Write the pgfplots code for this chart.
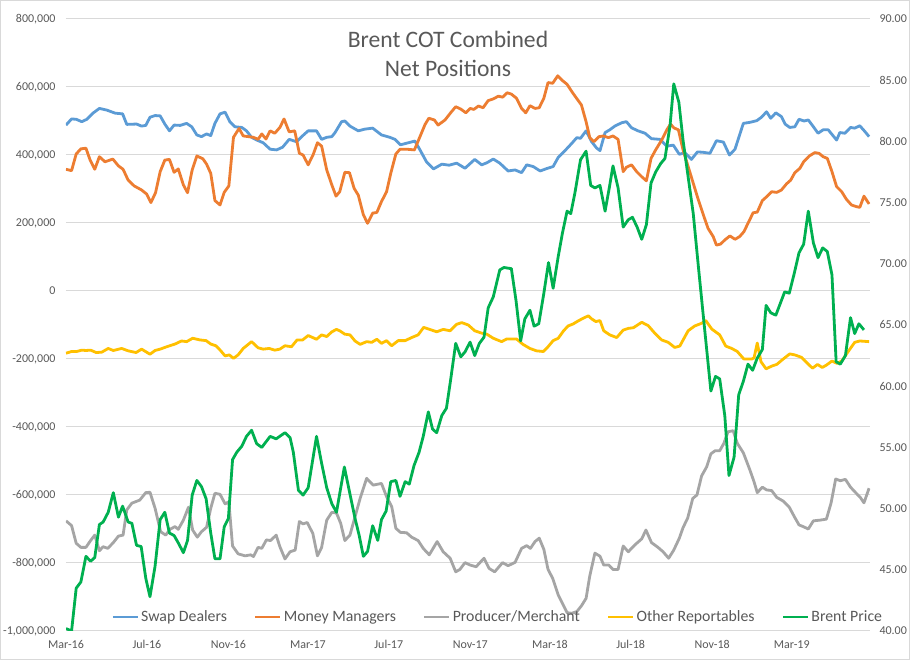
\documentclass[border=0pt]{standalone}
\usepackage{pgfplots}
\pgfplotsset{compat=1.18}
\usepackage{fontspec}
\setmainfont{Carlito}
\definecolor{cswap}{HTML}{5B9BD5}
\definecolor{cmoney}{HTML}{ED7D31}
\definecolor{cprod}{HTML}{A5A5A5}
\definecolor{cother}{HTML}{FFC000}
\definecolor{cbrent}{HTML}{00B050}
\definecolor{txt}{HTML}{595959}
\definecolor{gridc}{HTML}{D9D9D9}
\begin{document}
\begin{tikzpicture}[x=1pt,y=1pt]
\useasboundingbox (0,0) rectangle (910,660);
\fill[white] (0,0) rectangle (910,660);
\draw[gridc, line width=1pt] (0.5,0.5) rectangle (909.5,659.5);
\pgfplotsset{
  common/.style={at={(66pt,29pt)}, anchor=south west, scale only axis,
    width=804pt, height=612pt, xmin=0, xmax=173.3,
    tick label style={font=\fontsize{12}{14}\selectfont, text=txt},
    major tick length=0pt, /pgf/number format/assume math mode=true,
    axis line style={draw=none}},
  ser/.style={line width=2.8pt, line join=round, no markers},
}
\begin{axis}[common, ymin=-1000000, ymax=800000, ytick distance=200000,
  ymajorgrids, grid style={gridc, line width=1pt}, scaled y ticks=false,
  yticklabel style={xshift=-7pt, /pgf/number format/fixed, /pgf/number format/1000 sep={,}},
  xtick={0,17.43,35.0,52.14,69.57,87.14,104.29,121.71,139.29,156.43},
  xticklabels={Mar-16,Jul-16,Nov-16,Mar-17,Jul-17,Nov-17,Mar-18,Jul-18,Nov-18,Mar-19},
  xticklabel style={yshift=-6pt}]
\addplot[ser, color=cswap] coordinates {(0,488000)(1.2,506000)(2.2,505000)(3.4,498000)(4.5,505000)(5.9,524000)(7.2,537000)(8.8,532000)(10.6,523000)(12.2,521000)(13.1,490000)(15.2,491000)(16.3,485000)(17.2,487000)(18.1,511000)(19.2,516000)(20.3,515000)(21.3,491000)(22.3,471000)(23.3,488000)(24.6,487000)(26.0,493000)(27.1,483000)(28.2,459000)(29.2,454000)(30.3,462000)(31.2,457000)(32.1,493000)(33.2,521000)(34.3,526000)(35.3,498000)(36.4,483000)(37.9,481000)(38.9,471000)(40.0,452000)(41.1,444000)(42.5,436000)(44.0,417000)(45.4,415000)(46.7,423000)(48.1,446000)(49.7,439000)(50.8,454000)(52.2,471000)(54.0,471000)(55.1,446000)(56.2,452000)(57.3,454000)(58.0,466000)(59.4,498000)(60.1,500000)(61.2,485000)(63.0,471000)(64.4,476000)(66.1,479000)(68.0,459000)(69.8,452000)(70.9,446000)(72.1,430000)(73.8,436000)(75.2,441000)(76.3,415000)(77.7,380000)(79.2,359000)(81.0,373000)(82.6,370000)(84.2,376000)(86.0,361000)(88.1,387000)(89.6,371000)(90.7,377000)(92.1,388000)(93.5,376000)(95.3,353000)(96.8,356000)(98.2,348000)(99.3,371000)(100.7,366000)(102.2,353000)(103.6,360000)(105.0,366000)(106.1,393000)(107.5,412000)(109.0,434000)(110.1,451000)(110.9,449000)(112.1,471000)(113.3,439000)(114.4,420000)(115.1,413000)(116.2,466000)(117.2,474000)(118.3,485000)(119.8,495000)(120.8,498000)(121.9,480000)(123.3,471000)(124.8,464000)(126.2,448000)(128.0,446000)(129.5,426000)(130.9,429000)(132.2,402000)(133.4,407000)(134.8,387000)(136.1,409000)(137.3,408000)(138.8,405000)(140.2,442000)(141.7,438000)(143.0,400000)(144.2,417000)(146.0,493000)(147.4,496000)(148.9,501000)(149.9,511000)(151.0,527000)(151.9,508000)(153.0,524000)(154.2,513000)(155.0,491000)(156.0,481000)(157.1,483000)(158.0,505000)(159.1,500000)(160.0,503000)(161.1,483000)(162.1,464000)(163.2,474000)(164.3,474000)(165.2,459000)(166.1,444000)(166.8,466000)(167.9,464000)(169.1,481000)(170.0,479000)(171.1,486000)(172.2,469000)(173.1,454000)};
\addplot[ser, color=cmoney] coordinates {(0,358000)(1.2,354000)(2.2,403000)(3.2,418000)(4.3,420000)(5.2,385000)(6.2,358000)(7.2,395000)(8.4,380000)(10.1,388000)(11.3,368000)(12.3,358000)(13.4,326000)(14.7,309000)(16.3,297000)(17.4,285000)(18.3,260000)(19.3,289000)(20.3,351000)(21.3,385000)(22.3,387000)(23.3,349000)(24.2,359000)(25.3,312000)(26.2,289000)(27.2,356000)(28.2,397000)(29.5,389000)(30.3,373000)(31.2,346000)(32.1,266000)(33.2,253000)(34.1,290000)(35.1,309000)(36.1,452000)(37.3,478000)(38.2,456000)(39.3,454000)(40.4,452000)(41.4,446000)(42.2,462000)(43.1,447000)(44.0,471000)(45.0,464000)(46.1,481000)(47.0,506000)(48.1,468000)(49.3,471000)(50.3,405000)(51.1,400000)(52.2,371000)(53.3,402000)(54.2,436000)(55.1,426000)(56.2,356000)(57.3,312000)(58.2,279000)(59.0,292000)(60.1,349000)(61.1,348000)(62.1,302000)(63.0,282000)(64.1,224000)(65.0,199000)(66.1,229000)(67.0,231000)(68.0,263000)(69.1,292000)(70.0,346000)(71.1,403000)(72.0,417000)(73.4,417000)(75.1,415000)(76.3,454000)(77.4,490000)(78.2,508000)(79.4,503000)(80.2,488000)(81.7,503000)(82.9,524000)(84.0,542000)(85.1,535000)(86.2,524000)(87.1,537000)(87.9,534000)(88.9,544000)(89.9,539000)(91.0,560000)(92.1,565000)(93.2,573000)(94.1,570000)(95.1,583000)(96.0,579000)(97.1,567000)(98.2,537000)(99.1,524000)(100.0,545000)(101.1,537000)(102.0,539000)(103.0,567000)(103.9,613000)(104.9,611000)(106.0,633000)(107.0,619000)(108.0,608000)(109.2,583000)(110.2,564000)(111.1,547000)(112.1,498000)(112.9,451000)(113.8,439000)(114.9,454000)(115.9,456000)(116.9,451000)(117.9,456000)(119.0,446000)(120.1,351000)(120.8,364000)(121.9,371000)(123.0,351000)(124.1,336000)(125.1,324000)(126.1,390000)(127.1,415000)(128.4,444000)(129.5,474000)(130.3,491000)(131.0,480000)(132.0,474000)(133.0,415000)(134.1,366000)(135.2,317000)(136.3,268000)(137.5,219000)(138.4,184000)(139.5,160000)(140.2,135000)(141.1,138000)(142.0,150000)(143.1,162000)(144.2,152000)(145.2,160000)(146.1,174000)(147.0,199000)(148.1,230000)(149.0,232000)(150.1,266000)(151.0,277000)(152.1,292000)(153.2,290000)(154.2,297000)(155.3,315000)(156.2,326000)(157.1,348000)(158.2,361000)(159.0,380000)(160.2,397000)(161.4,407000)(162.3,405000)(163.2,395000)(164.1,390000)(165.1,351000)(166.1,307000)(167.2,292000)(168.2,270000)(169.3,253000)(170.4,248000)(171.1,246000)(172.0,279000)(173.1,256000)};
\addplot[ser, color=cprod] coordinates {(0,-676000)(1.2,-690000)(2.2,-742000)(3.2,-754000)(4.3,-754000)(5.3,-734000)(6.2,-718000)(7.2,-764000)(8.0,-752000)(9.0,-757000)(10.2,-740000)(11.3,-721000)(12.3,-718000)(13.1,-644000)(14.2,-624000)(15.9,-615000)(17.2,-593000)(18.1,-592000)(19.2,-639000)(20.4,-708000)(21.5,-718000)(22.4,-701000)(23.5,-693000)(24.2,-701000)(25.3,-674000)(26.4,-636000)(27.3,-703000)(28.3,-724000)(29.2,-708000)(30.3,-695000)(31.2,-639000)(32.1,-595000)(33.2,-598000)(34.3,-626000)(35.1,-620000)(35.9,-750000)(37.1,-773000)(38.6,-779000)(39.8,-776000)(40.4,-781000)(41.4,-754000)(42.2,-757000)(43.2,-732000)(44.1,-734000)(45.3,-718000)(46.1,-752000)(47.2,-788000)(48.3,-767000)(49.4,-762000)(50.3,-678000)(51.1,-685000)(52.0,-681000)(53.2,-713000)(54.2,-779000)(55.1,-754000)(56.2,-674000)(57.3,-651000)(58.3,-653000)(59.2,-683000)(60.1,-734000)(61.2,-718000)(62.3,-664000)(63.4,-610000)(64.8,-551000)(66.2,-571000)(68.0,-566000)(69.1,-605000)(70.2,-634000)(71.1,-698000)(72.1,-710000)(73.4,-711000)(74.5,-724000)(75.9,-734000)(77.0,-757000)(78.3,-776000)(80.0,-737000)(81.3,-767000)(82.8,-786000)(84.0,-826000)(84.9,-819000)(86.0,-799000)(87.1,-806000)(88.4,-811000)(90.1,-786000)(91.2,-816000)(92.4,-826000)(94.1,-799000)(95.3,-808000)(96.8,-798000)(98.2,-757000)(99.3,-749000)(100.1,-757000)(101.1,-737000)(102.0,-727000)(103.0,-760000)(103.9,-819000)(104.9,-845000)(106.1,-894000)(107.2,-924000)(108.0,-946000)(109.0,-948000)(110.1,-943000)(111.1,-926000)(112.1,-904000)(112.9,-838000)(114.0,-771000)(115.1,-780000)(115.9,-806000)(117.0,-806000)(117.9,-819000)(119.0,-819000)(120.1,-750000)(121.2,-767000)(122.6,-747000)(124.1,-729000)(125.0,-703000)(126.2,-740000)(127.6,-754000)(128.7,-767000)(129.9,-786000)(131.0,-762000)(132.2,-727000)(133.0,-696000)(134.0,-668000)(135.1,-610000)(136.0,-600000)(137.0,-544000)(138.1,-517000)(139.0,-479000)(139.9,-470000)(140.9,-470000)(141.8,-448000)(142.7,-414000)(143.8,-411000)(144.7,-448000)(146.0,-476000)(147.4,-526000)(148.3,-561000)(149.0,-593000)(150.1,-577000)(151.0,-585000)(152.1,-587000)(153.2,-607000)(154.6,-618000)(155.9,-636000)(157.0,-664000)(158.0,-688000)(158.9,-693000)(160.0,-700000)(161.1,-676000)(162.5,-674000)(163.9,-671000)(164.9,-624000)(165.9,-553000)(166.9,-558000)(168.0,-554000)(169.1,-577000)(170.2,-593000)(171.2,-607000)(172.0,-623000)(173.1,-580000)};
\addplot[ser, color=cother] coordinates {(0,-183000)(1.2,-178000)(2.3,-178000)(3.4,-174000)(4.3,-175000)(5.3,-174000)(6.5,-181000)(7.7,-180000)(9.1,-169000)(10.2,-175000)(12.0,-169000)(13.4,-176000)(15.1,-181000)(16.3,-171000)(18.1,-186000)(19.2,-175000)(20.3,-171000)(21.7,-164000)(23.5,-156000)(24.9,-147000)(26.0,-149000)(27.3,-139000)(28.9,-144000)(30.2,-146000)(31.2,-156000)(32.3,-161000)(33.3,-175000)(34.3,-191000)(35.2,-188000)(36.1,-198000)(37.1,-188000)(38.2,-169000)(40.0,-149000)(41.4,-167000)(42.5,-171000)(43.8,-169000)(45.0,-174000)(46.1,-171000)(47.2,-161000)(48.6,-164000)(49.8,-144000)(51.0,-144000)(52.2,-131000)(54.0,-142000)(55.1,-129000)(56.2,-134000)(57.3,-120000)(58.3,-113000)(59.0,-117000)(60.1,-127000)(61.2,-129000)(62.3,-147000)(63.4,-157000)(64.8,-149000)(65.9,-151000)(67.0,-142000)(68.0,-154000)(69.1,-146000)(70.2,-161000)(71.6,-146000)(73.1,-146000)(74.5,-137000)(75.9,-129000)(77.1,-107000)(78.4,-113000)(79.9,-120000)(81.3,-113000)(82.8,-117000)(84.2,-98000)(85.3,-93000)(86.7,-100000)(88.1,-117000)(89.6,-124000)(90.7,-127000)(92.1,-139000)(93.9,-149000)(95.0,-141000)(97.1,-141000)(98.5,-157000)(100.0,-169000)(101.4,-176000)(102.9,-178000)(103.9,-164000)(105.0,-146000)(106.1,-139000)(107.2,-118000)(108.2,-103000)(109.3,-97000)(110.4,-88000)(111.5,-80000)(112.6,-73000)(113.3,-82000)(114.2,-90000)(115.1,-87000)(115.9,-117000)(117.2,-129000)(118.7,-137000)(120.1,-115000)(121.2,-110000)(122.3,-108000)(124.1,-92000)(125.5,-102000)(126.9,-124000)(128.4,-144000)(129.8,-151000)(131.2,-166000)(132.3,-162000)(134.1,-117000)(135.5,-103000)(137.0,-95000)(137.9,-87000)(139.2,-112000)(140.9,-129000)(142.2,-162000)(143.5,-169000)(144.7,-178000)(146.1,-200000)(147.8,-200000)(148.3,-197000)(149.0,-153000)(149.8,-208000)(150.9,-229000)(152.1,-221000)(153.2,-216000)(154.6,-200000)(156.0,-185000)(157.1,-188000)(158.5,-195000)(159.6,-210000)(160.9,-227000)(162.0,-216000)(163.0,-225000)(163.9,-218000)(165.1,-206000)(166.2,-213000)(167.2,-206000)(168.6,-178000)(170.0,-151000)(171.1,-147000)(173.1,-149000)};
\end{axis}
\begin{axis}[common, ymin=40, ymax=90, ytick distance=5, axis y line*=right,
  hide x axis,
  yticklabel style={xshift=6pt, /pgf/number format/fixed, /pgf/number format/fixed zerofill, /pgf/number format/precision=2},
  legend columns=5,
  legend style={at={(0.537,0.023)}, anchor=center, draw=none, fill=none,
    font=\fontsize{15.8}{18}\selectfont, text=txt, inner sep=0pt,
    /tikz/every even column/.append style={column sep=25pt}},
  legend image code/.code={\draw[#1] (0pt,0pt) -- (25pt,0pt);}]
\addlegendimage{line width=2.8pt, color=cswap}
\addlegendentry{Swap Dealers}
\addlegendimage{line width=2.8pt, color=cmoney}
\addlegendentry{Money Managers}
\addlegendimage{line width=2.8pt, color=cprod}
\addlegendentry{Producer/Merchant}
\addlegendimage{line width=2.8pt, color=cother}
\addlegendentry{Other Reportables}
\addplot[ser, color=cbrent] coordinates {(0,40.2)(1.2,40.0)(2.2,43.5)(3.2,44.0)(4.3,46.1)(5.3,45.7)(6.2,46.0)(7.2,48.7)(8.0,48.9)(9.1,49.7)(10.2,51.3)(11.3,49.3)(12.2,50.2)(13.4,48.9)(14.2,48.8)(15.2,47.0)(16.2,46.9)(17.2,44.3)(18.1,42.8)(19.2,45.3)(20.3,49.1)(21.3,49.7)(22.3,48.0)(23.3,47.8)(24.2,47.2)(25.3,46.4)(26.2,47.4)(27.2,51.1)(28.2,52.3)(29.2,51.8)(30.2,50.8)(31.2,48.0)(32.1,45.9)(33.2,45.9)(34.1,48.5)(35.0,49.2)(35.9,54.0)(36.8,54.6)(37.9,55.1)(38.9,55.9)(40.0,56.4)(41.1,55.3)(42.2,55.0)(44.0,55.9)(45.3,55.7)(47.2,56.2)(48.3,55.8)(49.0,54.6)(50.1,51.5)(51.1,51.1)(52.2,51.7)(54.0,55.9)(55.1,53.7)(56.2,51.7)(57.3,50.4)(58.3,49.7)(60.0,53.4)(61.2,51.2)(62.3,49.2)(63.2,47.8)(64.1,46.1)(65.0,46.5)(66.1,48.6)(67.2,47.4)(68.0,49.1)(69.0,49.8)(70.0,52.2)(71.1,52.3)(72.0,51.0)(73.1,52.2)(74.0,52.0)(75.0,53.5)(76.1,54.6)(77.0,55.9)(78.1,57.9)(79.0,56.5)(79.9,56.2)(81.0,57.6)(82.0,58.2)(82.9,60.5)(84.0,63.5)(85.1,62.4)(86.0,62.8)(87.1,63.6)(88.1,62.5)(89.1,63.5)(90.1,64.0)(91.0,66.4)(92.1,67.3)(93.5,69.5)(94.4,69.7)(96.0,69.6)(97.0,67.0)(98.0,63.7)(98.9,65.5)(100.0,66.2)(100.9,64.9)(101.9,65.1)(103.0,67.6)(104.0,70.1)(105.0,68.0)(106.1,70.6)(107.0,72.5)(108.0,74.3)(108.8,74.1)(109.7,75.8)(110.9,78.5)(112.1,79.2)(113.1,76.4)(114.0,76.2)(115.1,76.4)(116.2,74.3)(117.1,76.2)(117.9,78.0)(119.0,76.2)(120.1,73.0)(121.2,73.6)(122.1,73.8)(123.1,73.0)(124.1,72.0)(125.1,73.2)(126.1,76.6)(127.1,77.5)(128.2,78.2)(129.1,78.6)(130.2,81.3)(131.0,84.7)(132.1,83.2)(133.0,80.1)(134.1,77.1)(135.2,74.1)(136.3,69.8)(137.3,66.0)(139.0,59.6)(140.0,60.8)(140.9,60.6)(142.0,57.6)(142.9,52.7)(144.0,54.2)(145.0,59.3)(146.0,60.4)(147.0,61.8)(148.0,61.3)(149.0,62.3)(150.1,63.0)(150.9,66.6)(151.9,66.0)(153.0,65.8)(154.0,66.8)(154.9,67.7)(155.9,67.6)(156.9,69.1)(158.0,70.9)(159.0,71.6)(160.0,74.3)(161.1,71.7)(162.1,70.5)(163.1,71.3)(164.1,71.0)(165.1,69.1)(166.0,62.0)(166.9,61.8)(168.0,62.5)(169.1,65.6)(170.0,64.3)(170.9,65.1)(172.0,64.6)};
\addlegendentry{Brent Price}
\end{axis}
\node[anchor=base, text=txt, font=\fontsize{23.6}{28}\selectfont] at (448,612) {Brent COT Combined};
\node[anchor=base, text=txt, font=\fontsize{23.6}{28}\selectfont] at (448,583) {Net Positions};
\end{tikzpicture}
\end{document}
